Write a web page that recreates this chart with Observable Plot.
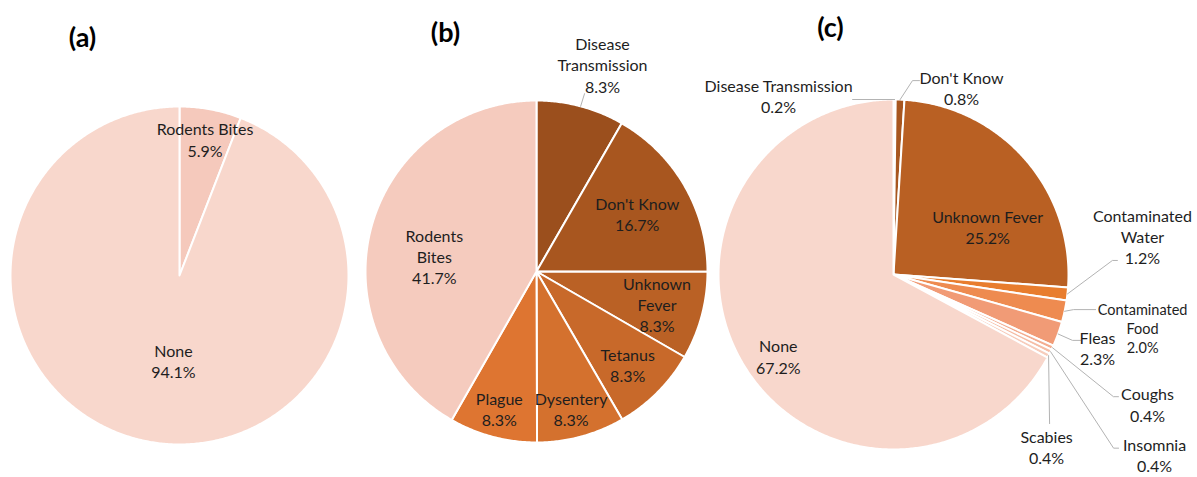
<!DOCTYPE html>
<html><head><meta charset="utf-8">
<script src="https://cdn.jsdelivr.net/npm/d3@7"></script>
<script src="https://cdn.jsdelivr.net/npm/@observablehq/plot@0.6"></script>
<style>body{margin:0;background:#fff;}</style>
</head><body><div id="chart"></div>
<script>
// ---------- DATA ----------
const panelTitles = ["(a)", "(b)", "(c)"];

const catsA = ["Rodents Bites", "None"];
const valsA = [5.9, 94.1];

const catsB = ["Disease Transmission", "Don't Know", "Unknown Fever", "Tetanus", "Dysentery", "Plague", "Rodents Bites"];
const valsB = [8.3, 16.7, 8.3, 8.3, 8.3, 8.3, 41.7];

const catsC = ["Disease Transmission", "Don't Know", "Unknown Fever", "Contaminated Water", "Contaminated Food", "Fleas", "Coughs", "Insomnia", "Scabies", "None"];
const valsC = [0.2, 0.8, 25.2, 1.2, 2.0, 2.3, 0.4, 0.4, 0.4, 67.2];

// ---------- STYLES ----------
const coloursA = ["#F5C9BC", "#F8D7CC"];
const coloursB = ["#9B4F1D", "#A8561F", "#BA6125", "#C8692A", "#D4712E", "#DE7531", "#F5CBBE"];
const coloursC = ["#FAE3DA", "#A8561F", "#B96023", "#E87D2E", "#EE8B50", "#F19B76", "#F3AD91", "#F5BDA6", "#F7CCBB", "#F8D7CC"];

// ---------- LAYOUT ----------
const panels = [
  {title: [82, 38], cx: 179, cy: 275, r: 169, cats: catsA, vals: valsA, colours: coloursA,
   labels: {
     "Rodents Bites": {k: 0.82},
     "None": {k: 0.5, dx: 9.5, dy: 2}
   }},
  {title: [445, 33], cx: 536, cy: 271, r: 171, cats: catsB, vals: valsB, colours: coloursB,
   labels: {
     "Disease Transmission": {k: 1.27, dx: 10, dy: 3, wrap: true, leader: [[-18, 29]]},
     "Don't Know": {k: 0.68},
     "Unknown Fever": {k: 0.73, wrap: true},
     "Tetanus": {k: 0.77, dx: -2},
     "Dysentery": {k: 0.83, dx: -2.5},
     "Plague": {k: 0.83, dx: -1},
     "Rodents Bites": {k: 0.6, dx: -3, dy: 11, wrap: true}
   }},
  {title: [830, 28], cx: 893, cy: 274, r: 175, cats: catsC, vals: valsC, colours: coloursC,
   labels: {
     "Disease Transmission": {k: 1, dx: -116, dy: -4, leader: [[74, 4]]},
     "Don't Know": {k: 1, dx: 61.4, dy: -12, leader: [[-49, -7], [-42, -7]]},
     "Unknown Fever": {k: 0.6, dx: 15, dy: 21},
     "Contaminated Water": {k: 1, dx: 75, dy: -57.5, wrap: true, leader: [[-30, 24], [-25, 24]]},
     "Contaminated Food": {k: 1, dx: 78, dy: 16.3, wrap: true, small: true, leader: [[-69, -18], [-47, -18]]},
     "Fleas": {k: 1, dx: 39.4, dy: 13.4, leader: [[-25, -7], [-17, -7]]},
     "Coughs": {k: 1, dx: 95, dy: 56.5, leader: [[-34, -7.5], [-29, -7.5]]},
     "Insomnia": {k: 1, dx: 104, dy: 103.5, leader: [[-41, -7], [-36, -7]]},
     "Scabies": {k: 1, dx: -2, dy: 91.5, leader: [[3, -23.5]]},
     "None": {k: 0.8, dx: 5, dy: 10}
   }}
];

// ---------- BUILD ----------
const slicePts = [], labelData = [], leaderPts = [], titleData = [];
const polar = (p, a, rr) => [p.cx + rr * Math.sin(a), p.cy - rr * Math.cos(a)];

panels.forEach((p, pi) => {
  titleData.push({x: p.title[0], y: p.title[1], text: panelTitles[pi]});
  const arcs = d3.pie().sort(null).value(d => d)(p.vals);
  arcs.forEach((a, i) => {
    const key = pi + "-" + i;
    const n = Math.max(2, Math.ceil((a.endAngle - a.startAngle) / (Math.PI / 360)));
    slicePts.push({key, x: p.cx, y: p.cy, colour: p.colours[i]});
    for (let j = 0; j <= n; j++) {
      const ang = a.startAngle + (a.endAngle - a.startAngle) * j / n;
      const [x, y] = polar(p, ang, p.r);
      slicePts.push({key, x, y, colour: p.colours[i]});
    }
    const name = p.cats[i];
    const L = p.labels[name] || {k: 0.6};
    const mid = (a.startAngle + a.endAngle) / 2;
    const [bx, by] = polar(p, mid, p.r * L.k);
    const tx = bx + (L.dx || 0), ty = by + (L.dy || 0);
    const nm = L.wrap ? name.replace(" ", "\n") : name;
    labelData.push({x: tx, y: ty, text: nm + "\n" + p.vals[i].toFixed(1) + "%", size: L.small ? 14.5 : 16});
    if (L.leader) {
      const [ex, ey] = polar(p, mid, p.r);
      leaderPts.push({key, x: ex, y: ey});
      L.leader.forEach(([ox, oy]) => leaderPts.push({key, x: tx + ox, y: ty + oy}));
    }
  });
});

const chart = Plot.plot({
  width: 1197,
  height: 477,
  margin: 0,
  x: {domain: [0, 1197], range: [0, 1197], axis: null},
  y: {domain: [0, 477], range: [0, 477], axis: null},
  color: {type: "identity"},
  style: {fontFamily: "Lato, 'Open Sans', sans-serif", background: "#fff"},
  marks: [
    Plot.line(slicePts, {x: "x", y: "y", z: "key", fill: "colour", stroke: "white", strokeWidth: 2, curve: "linear-closed", strokeLinejoin: "round"}),
    Plot.line(leaderPts, {x: "x", y: "y", z: "key", stroke: "#B3B3B3", strokeWidth: 1}),
    Plot.text(labelData, {x: "x", y: "y", text: "text", fontSize: "size", lineHeight: 1.32, fill: "#1e1e1e", lineAnchor: "middle"}),
    Plot.text(titleData, {x: "x", y: "y", text: "text", fontSize: 27, fontWeight: "bold", fill: "#000"})
  ]
});
document.getElementById("chart").appendChild(chart);
</script>
</body></html>
